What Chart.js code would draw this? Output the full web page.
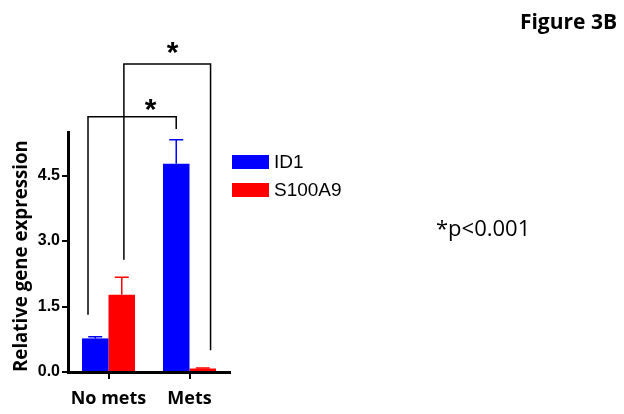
<!DOCTYPE html>
<html>
<head>
<meta charset="utf-8">
<script src="https://cdn.jsdelivr.net/npm/chart.js@4"></script>
<style>
  html, body { margin: 0; padding: 0; background: #fff; }
  #wrap { position: relative; width: 624px; height: 414px; }
</style>
</head>
<body>
<div id="wrap"><canvas id="chart" width="624" height="414"></canvas></div>
<script>
// data
const groups = ['No mets', 'Mets'];
const id1Values = [0.77, 4.77];
const id1Errors = [0.04, 0.55];
const s100a9Values = [1.77, 0.08];
const s100a9Errors = [0.40, 0.01];
const yTicks = [0, 1.5, 3.0, 4.5];

const BLUE = '#0000ff';
const RED = '#ff0000';

// error bars, significance brackets, legend and side notes
const extras = {
    id: 'extras',
    afterDatasetsDraw(chart) {
        const ctx = chart.ctx;
        const x = chart.scales.x;
        const y = chart.scales.y;
        const errs = [id1Errors, s100a9Errors];

        ctx.save();
        // upper error bars
        chart.data.datasets.forEach((ds, i) => {
            const meta = chart.getDatasetMeta(i);
            meta.data.forEach((bar, j) => {
                const top = y.getPixelForValue(ds.data[j] + errs[i][j]);
                ctx.strokeStyle = ds.backgroundColor;
                ctx.lineWidth = 1.5;
                ctx.beginPath();
                ctx.moveTo(bar.x, bar.y);
                ctx.lineTo(bar.x, top);
                ctx.moveTo(bar.x - 7, top);
                ctx.lineTo(bar.x + 7, top);
                ctx.stroke();
            });
        });

        // significance brackets: [left x, right x, top y, left foot, right foot, star x, star y]
        const brackets = [
            [-0.253, 0.836, 5.85, 1.31, 5.57, 0.52, 6.11],
            [0.19, 1.26, 7.06, 2.57, 0.5, 0.79, 7.43]
        ];
        ctx.strokeStyle = '#000';
        ctx.lineWidth = 1.5;
        ctx.fillStyle = '#000';
        ctx.font = 'bold 30px "Liberation Sans"';
        ctx.textAlign = 'center';
        ctx.textBaseline = 'alphabetic';
        const m = ctx.measureText('*');
        const shift = (m.actualBoundingBoxAscent - m.actualBoundingBoxDescent) / 2;
        brackets.forEach(b => {
            const x1 = x.getPixelForValue(b[0]);
            const x2 = x.getPixelForValue(b[1]);
            const yt = y.getPixelForValue(b[2]);
            ctx.beginPath();
            ctx.moveTo(x1, y.getPixelForValue(b[3]));
            ctx.lineTo(x1, yt);
            ctx.lineTo(x2, yt);
            ctx.lineTo(x2, y.getPixelForValue(b[4]));
            ctx.stroke();
            ctx.fillText('*', x.getPixelForValue(b[5]), y.getPixelForValue(b[6]) + shift);
        });

        // legend
        ctx.textAlign = 'left';
        ctx.textBaseline = 'middle';
        ctx.font = '19px "Liberation Sans"';
        chart.data.datasets.forEach((ds, i) => {
            const ly = 155 + i * 28;
            ctx.fillStyle = ds.backgroundColor;
            ctx.fillRect(232, ly, 37, 14);
            ctx.fillStyle = '#000';
            ctx.fillText(ds.label, 274, ly + 8);
        });

        // side notes
        ctx.font = '22px "Open Sans"';
        ctx.fillText('*p<0.001', 436, 230);
        ctx.font = 'bold 21px "Open Sans"';
        ctx.textAlign = 'right';
        ctx.fillText('Figure 3B', 617, 23);
        ctx.restore();
    }
};

new Chart(document.getElementById('chart'), {
    type: 'bar',
    data: {
        labels: groups,
        datasets: [
            { label: 'ID1', data: id1Values, backgroundColor: BLUE },
            { label: 'S100A9', data: s100a9Values, backgroundColor: RED }
        ]
    },
    options: {
        responsive: false,
        animation: false,
        layout: { padding: { top: 132, left: 0, right: 394, bottom: 0 } },
        plugins: { legend: { display: false }, tooltip: { enabled: false } },
        datasets: { bar: { categoryPercentage: 0.655, barPercentage: 1.0, borderWidth: 0 } },
        scales: {
            x: {
                afterFit: s => { s.height = 42; },
                border: { color: '#000', width: 3 },
                grid: { display: true, offset: false, drawOnChartArea: false, drawTicks: true, tickLength: 7, color: '#000', lineWidth: 2 },
                ticks: {
                    color: '#000',
                    padding: 9,
                    maxRotation: 0,
                    minRotation: 0,
                    autoSkip: false,
                    font: { family: 'Open Sans', weight: 'bold', size: 18 }
                }
            },
            y: {
                min: 0,
                max: 5.5,
                afterFit: s => { s.width = 68; },
                afterBuildTicks: s => { s.ticks = yTicks.map(v => ({ value: v })); },
                border: { color: '#000', width: 3 },
                grid: { display: true, drawOnChartArea: false, drawTicks: true, tickLength: 6, color: '#000', lineWidth: 2 },
                ticks: {
                    color: '#000',
                    padding: 2,
                    font: { family: 'Liberation Sans', weight: 'bold', size: 16 },
                    callback: v => v.toFixed(1)
                },
                title: {
                    display: true,
                    text: 'Relative gene expression',
                    color: '#000',
                    align: 'start',
                    padding: { top: 10, bottom: 0 },
                    font: { family: 'Open Sans', weight: 'bold', size: 18.7 }
                }
            }
        }
    },
    plugins: [extras]
});
</script>
</body>
</html>
